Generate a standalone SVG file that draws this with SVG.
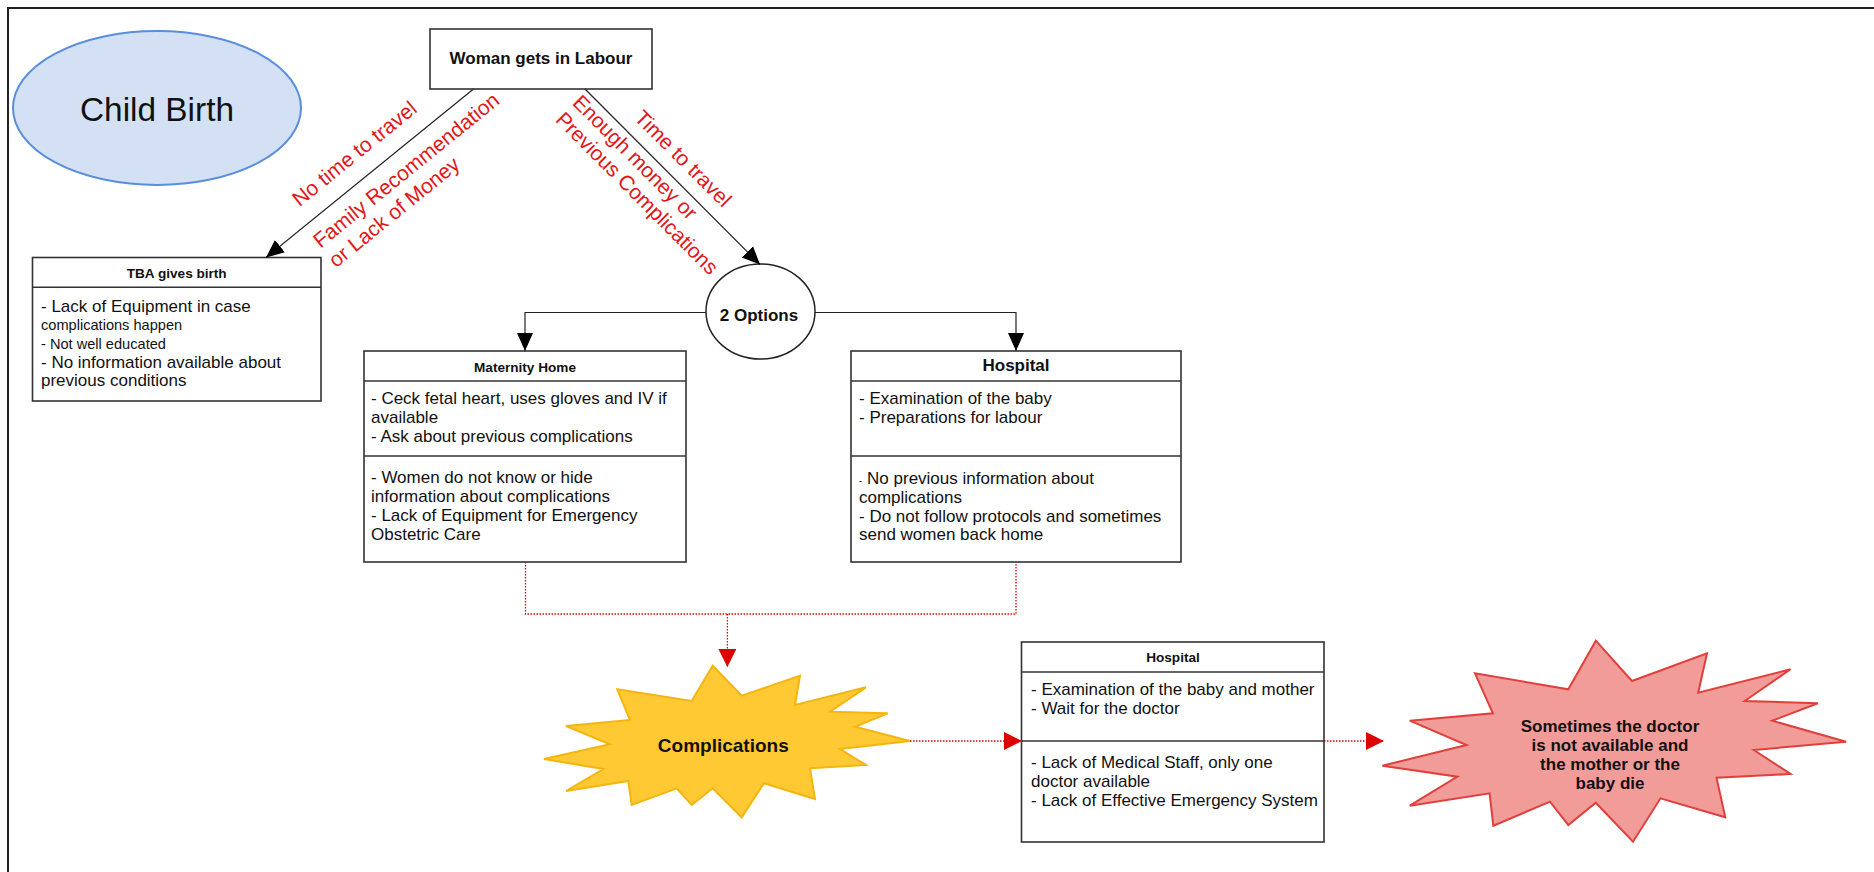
<svg xmlns="http://www.w3.org/2000/svg" width="1874" height="872" viewBox="0 0 1874 872">
  <style>
    text { font-family: "Liberation Sans", Arial, sans-serif; fill: #111; }
    .box { fill: #fff; stroke: #333; stroke-width: 1.6; }
    .sep { stroke: #333; stroke-width: 1.6; fill: none; }
    .title { font-weight: bold; font-size: 13.6px; text-anchor: middle; }
    .title-lg { font-weight: bold; font-size: 17px; text-anchor: middle; }
    .body { font-size: 17px; }
    .small { font-size: 14.6px; }
    .edge { fill: none; stroke: #222; stroke-width: 1.2; }
    .risk { fill: none; stroke: #e00000; stroke-width: 1.3; stroke-dasharray: 1.5 1.5; }
    .lbl { font-size: 21px; fill: #e3171a; }
    .bold { font-weight: bold; font-size: 17px; text-anchor: middle; }
  </style>
  <defs>
    <marker id="arrowBlack" markerUnits="userSpaceOnUse" markerWidth="18" markerHeight="18" viewBox="0 0 18 18" refX="18" refY="9" orient="auto">
      <path d="M0,1 L18,9 L0,17 Z" fill="#000"/>
    </marker>
    <marker id="arrowRed" markerUnits="userSpaceOnUse" markerWidth="18" markerHeight="18" viewBox="0 0 18 18" refX="18" refY="9" orient="auto">
      <path d="M0,0 L18,9 L0,18 Z" fill="#dd0000"/>
    </marker>
  </defs>

  <rect width="1874" height="872" fill="#fff"/>
  <!-- page frame -->
  <path d="M8,872 L8,8 L1874,8" fill="none" stroke="#222" stroke-width="2"/>

  <!-- title bubble -->
  <g id="child-birth">
    <ellipse cx="157" cy="108" rx="144" ry="77" fill="#d4e1f5" stroke="#5a8edb" stroke-width="2"/>
    <text x="157" y="121" font-size="33.4" text-anchor="middle">Child Birth</text>
  </g>

  <g id="labour">
    <rect class="box" x="430" y="29" width="222" height="60"/>
    <text class="bold" x="541" y="63.5">Woman gets in Labour</text>
  </g>

  <g id="tba">
    <rect class="box" x="32.5" y="257.5" width="288.5" height="143.5"/>
    <line class="sep" x1="32.5" y1="287.3" x2="321" y2="287.3"/>
    <text class="title" x="176.7" y="277.5">TBA gives birth</text>
    <text class="body" x="41" y="311.5">- Lack of Equipment in case</text>
    <text class="small" x="41" y="330">complications happen</text>
    <text class="small" x="41" y="348.5">- Not well educated</text>
    <text class="body" x="41" y="367.5">- No information available about</text>
    <text class="body" x="41" y="386">previous conditions</text>
  </g>

  <g id="options">
    <ellipse cx="760.5" cy="311.5" rx="54.5" ry="47.5" fill="#fff" stroke="#222" stroke-width="1.5"/>
    <text class="bold" x="759" y="321">2 Options</text>
  </g>

  <g id="maternity-home">
    <rect class="box" x="364" y="351" width="322" height="211"/>
    <line class="sep" x1="364" y1="381" x2="686" y2="381"/>
    <line class="sep" x1="364" y1="456" x2="686" y2="456"/>
    <text class="title" x="525" y="371.5">Maternity Home</text>
    <text class="body" x="371" y="404">- Ceck fetal heart, uses gloves and IV if</text>
    <text class="body" x="371" y="423">available</text>
    <text class="body" x="371" y="442">- Ask about previous complications</text>
    <text class="body" x="371" y="483">- Women do not know or hide</text>
    <text class="body" x="371" y="502">information about complications</text>
    <text class="body" x="371" y="521">- Lack of Equipment for Emergency</text>
    <text class="body" x="371" y="540">Obstetric Care</text>
  </g>

  <g id="hospital">
    <rect class="box" x="851" y="351" width="330" height="211"/>
    <line class="sep" x1="851" y1="381" x2="1181" y2="381"/>
    <line class="sep" x1="851" y1="456" x2="1181" y2="456"/>
    <text class="title-lg" x="1016" y="371">Hospital</text>
    <text class="body" x="859" y="404">- Examination of the baby</text>
    <text class="body" x="859" y="423">- Preparations for labour</text>
    <text class="body" x="859" y="483.5"><tspan font-size="10">-</tspan> No previous information about</text>
    <text class="body" x="859" y="502.5">complications</text>
    <text class="body" x="859" y="521.5">- Do not follow protocols and sometimes</text>
    <text class="body" x="859" y="540">send women back home</text>
  </g>

  <g id="complications">
    <polygon points="712.7,665.7 741.7,695.7 800,675.7 795,705 866,687.3 830,711.7 887.7,713.3 855,726.7 910,741 840,749 866,765 810,768.3 815,799 764,783.3 741.7,817.3 712.7,788.3 691.7,805 676.7,788.3 631.7,805 628.3,781 566,791 603.3,769 544,759 610,744.3 566,726 630,720 617.3,689.3 691.7,701" fill="#ffc933" stroke="#f5b50f" stroke-width="2" stroke-linejoin="miter"/>
    <text x="723.3" y="751.5" font-size="19" font-weight="bold" text-anchor="middle">Complications</text>
  </g>

  <g id="emergency-hospital">
    <rect class="box" x="1021.5" y="642" width="302.5" height="200"/>
    <line class="sep" x1="1021.5" y1="672" x2="1324" y2="672"/>
    <line class="sep" x1="1021.5" y1="741" x2="1324" y2="741"/>
    <text class="title" x="1173" y="662">Hospital</text>
    <text class="body" x="1031" y="695">- Examination of the baby and mother</text>
    <text class="body" x="1031" y="714">- Wait for the doctor</text>
    <text class="body" x="1031" y="768">- Lack of Medical Staff, only one</text>
    <text class="body" x="1031" y="787">doctor available</text>
    <text class="body" x="1031" y="806">- Lack of Effective Emergency System</text>
  </g>

  <g id="outcome">
    <polygon points="1595.8,640.7 1632,681 1707,653.3 1698.2,692.7 1790.5,669.3 1744.7,701 1817.9,703.3 1772.2,720.7 1846.1,741.7 1753.9,750 1790.5,774 1716.5,777.7 1725.3,817.3 1660.5,798.3 1633,841.7 1595.8,802.7 1568.3,825 1550,801.7 1493.3,825.7 1489.6,793.3 1409.8,805.7 1457.4,776.7 1382.4,765.7 1466.5,745 1409.8,720.7 1492.9,713.3 1475,673.3 1568.3,689.3" fill="#f19c99" stroke="#e0403c" stroke-width="2"/>
    <text class="bold" x="1610" y="731.5">Sometimes the doctor</text>
    <text class="bold" x="1610" y="751">is not available and</text>
    <text class="bold" x="1610" y="769.5">the mother or the</text>
    <text class="bold" x="1610" y="789">baby die</text>
  </g>

  <g id="connectors">
    <line class="edge" x1="473.5" y1="89" x2="266" y2="257.5" marker-end="url(#arrowBlack)"/>
    <line class="edge" x1="585" y1="89" x2="760" y2="264.5" marker-end="url(#arrowBlack)"/>
    <polyline class="edge" points="706,312.5 525,312.5 525,351" marker-end="url(#arrowBlack)"/>
    <polyline class="edge" points="815,312.5 1016,312.5 1016,351" marker-end="url(#arrowBlack)"/>

    <polyline class="risk" points="525.5,562 525.5,614 1016,614 1016,562"/>
    <line class="risk" x1="727.4" y1="614" x2="727.4" y2="667" marker-end="url(#arrowRed)"/>
    <line class="risk" x1="910" y1="741" x2="1022" y2="741" marker-end="url(#arrowRed)"/>
    <line class="risk" x1="1324" y1="741" x2="1384" y2="741" marker-end="url(#arrowRed)"/>

    <!-- branch labels -->
    <text class="lbl" text-anchor="middle" transform="translate(358.9,159.1) rotate(-39)">No time to travel</text>
    <text class="lbl" transform="translate(320.4,248.8) rotate(-39)">Family Recommendation</text>
    <text class="lbl" transform="translate(336.1,268.2) rotate(-39)">or Lack of Money</text>
    <text class="lbl" text-anchor="middle" transform="translate(678,163.6) rotate(45)">Time to travel</text>
    <text class="lbl" transform="translate(571.4,103.7) rotate(45)">Enough money or</text>
    <text class="lbl" transform="translate(554.4,120.7) rotate(45)">Previous Complications</text>
  </g>
</svg>
